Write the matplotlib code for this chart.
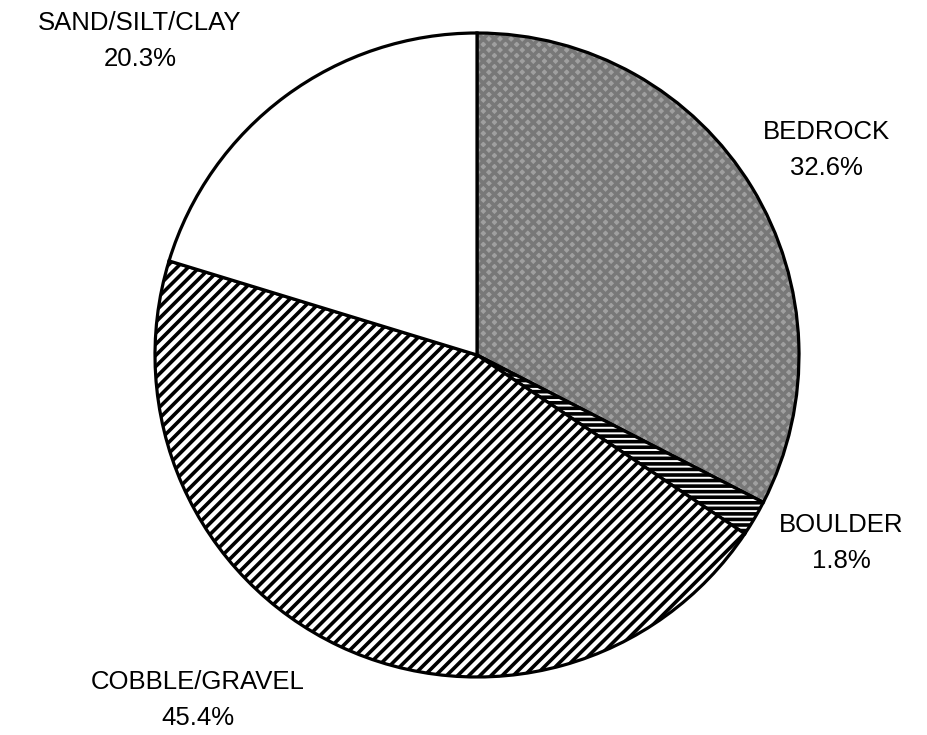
import matplotlib.pyplot as plt
import matplotlib as mpl

categories = ["BEDROCK", "BOULDER", "COBBLE/GRAVEL", "SAND/SILT/CLAY"]
percents = [32.6, 1.8, 45.4, 20.3]

mpl.rcParams["hatch.linewidth"] = 2.6
plt.rcParams["font.family"] = ["Liberation Sans", "DejaVu Sans"]

fig = plt.figure(figsize=(9.28, 7.35), dpi=100)
ax = fig.add_axes([0, 0, 1, 1])

faces = ["#a0a0a0", "white", "white", "white"]
hatches = ["xxx", "---", "///", ""]

wedges, _ = ax.pie(percents, startangle=90, counterclock=False,
                   center=(477, 380), radius=322, colors=faces,
                   wedgeprops=dict(edgecolor="black", linewidth=2.3))
for w, h in zip(wedges, hatches):
    w.set_hatch(h)
wedges[0]._hatch_color = mpl.colors.to_rgba("#787878")

ax.set_xlim(0, 928)
ax.set_ylim(0, 735)
ax.set_aspect("equal")
ax.axis("off")

# label centres (y measured from bottom)
label_pos = [(826, 585), (841, 192), (198, 35), (140, 694)]
for cat, p, (x, y) in zip(categories, percents, label_pos):
    ax.text(x, y, f"{cat}\n{p}%", ha="center", va="center",
            fontsize=18.5, linespacing=1.6)

fig.savefig("out.png", dpi=100)
